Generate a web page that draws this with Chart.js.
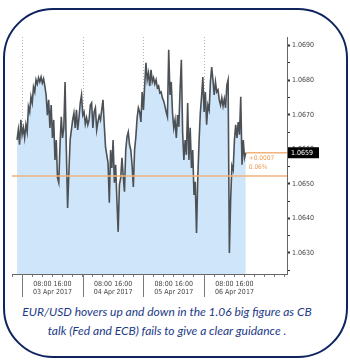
<!DOCTYPE html>
<html>
<head>
<meta charset="utf-8">
<script src="https://cdn.jsdelivr.net/npm/chart.js@4.4.1/dist/chart.umd.min.js"></script>
<style>
    body { margin: 0; background: #fff; width: 350px; height: 362px; position: relative; overflow: hidden; }
    #frame {
        position: absolute; left: 3px; top: 8px; width: 345px; height: 350px;
        box-sizing: border-box; border: 2px solid #102560; border-radius: 50px;
    }
    #chartBox { position: absolute; left: 0; top: 0; width: 350px; height: 300px; }
    #caption {
        position: absolute; left: 0; top: 302px; width: 334px; text-align: center;
        font-family: Lato, "Open Sans", sans-serif; font-style: italic; font-size: 12px;
        line-height: 19px; color: #1c3a86;
    }
</style>
</head>
<body>
<div id="frame"></div>
<div id="chartBox"><canvas id="fxChart" width="350" height="300"></canvas></div>
<div id="caption">EUR/USD hovers up and down in the 1.06 big figure as CB<br>talk (Fed and ECB) fails to give a clear guidance .</div>

<script>
// EUR/USD, half-hour points from 02 Apr 22:00 (hour -2, hours counted from 03 Apr 00:00)
const startHour = -2;
const stepHours = 0.5;
const prices = [
    1.06627, 1.06656, 1.06613, 1.06685, 1.06642, 1.06662, 1.06633, 1.06671, 1.06650, 1.06723,
    1.06708, 1.06752, 1.06734, 1.06780, 1.06766, 1.06801, 1.06789, 1.06807, 1.06795, 1.06809,
    1.06792, 1.06804, 1.06783, 1.06757, 1.06699, 1.06743, 1.06662, 1.06728, 1.06633, 1.06685,
    1.06569, 1.06627, 1.06517, 1.06503, 1.06613, 1.06694, 1.06633, 1.06662, 1.06795, 1.06598,
    1.06430, 1.06532, 1.06627, 1.06656, 1.06685, 1.06705, 1.06662, 1.06714, 1.06656, 1.06691,
    1.06734, 1.06757, 1.06699, 1.06708, 1.06673, 1.06691, 1.06671, 1.06685, 1.06728, 1.06734,
    1.06662, 1.06708, 1.06720, 1.06656, 1.06679, 1.06697, 1.06685, 1.06714, 1.06743, 1.06671,
    1.06607, 1.06584, 1.06561, 1.06445, 1.06598, 1.06546, 1.06627, 1.06503, 1.06555, 1.06453,
    1.06361, 1.06497, 1.06517, 1.06575, 1.06523, 1.06477, 1.06598, 1.06636, 1.06650, 1.06613,
    1.06598, 1.06555, 1.06491, 1.06598, 1.06636, 1.06691, 1.06720, 1.06708, 1.06679, 1.06766,
    1.06714, 1.06786, 1.06850, 1.06801, 1.06821, 1.06783, 1.06830, 1.06795, 1.06807, 1.06789,
    1.06801, 1.06778, 1.06783, 1.06763, 1.06766, 1.06749, 1.06740, 1.06725, 1.06708, 1.06694,
    1.06888, 1.06757, 1.06795, 1.06705, 1.06662, 1.06685, 1.06633, 1.06699, 1.06665, 1.06772,
    1.06859, 1.06650, 1.06569, 1.06627, 1.06584, 1.06734, 1.06569, 1.06662, 1.06546, 1.06598,
    1.06468, 1.06506, 1.06358, 1.06517, 1.06621, 1.06705, 1.06752, 1.06809, 1.06708, 1.06766,
    1.06671, 1.06728, 1.06714, 1.06795, 1.06838, 1.06801, 1.06757, 1.06795, 1.06766, 1.06772,
    1.06743, 1.06728, 1.06749, 1.06725, 1.06746, 1.06720, 1.06786, 1.06801, 1.06300, 1.06453,
    1.06552, 1.06540, 1.06627, 1.06671, 1.06633, 1.06679, 1.06642, 1.06752, 1.06555, 1.06627,
    1.06575, 1.06590
];
const refLevel = 1.06523;   // orange reference line
const dayLabels = ['03 Apr 2017', '04 Apr 2017', '05 Apr 2017', '06 Apr 2017'];
const dayStarts = [0, 24, 48, 72];
const yTicks = [1.0625, 1.0630, 1.0635, 1.0640, 1.0645, 1.0650, 1.0655, 1.0660, 1.0665, 1.0670, 1.0675, 1.0680, 1.0685, 1.0690];
const xTicks = [-4, 0, 4, 8, 12, 16, 20, 24, 28, 32, 36, 40, 44, 48, 52, 56, 60, 64, 68, 72, 76, 80, 84, 88, 92, 96, 100, 104];

const points = prices.map((p, i) => ({ x: startHour + i * stepHours, y: p }));
const lastPoint = points[points.length - 1];

const fontFamily = "'DejaVu Sans Condensed', 'Liberation Sans Narrow', sans-serif";
const tickFont = { family: fontFamily, size: 7 };
const orange = '#f1b27c';

function isMajor(v) {
    return Math.abs(v * 1000 - Math.round(v * 1000)) < 1e-6;
}

// day separators, dotted day gridlines, orange levels and the last price box
const extras = {
    id: 'extras',
    beforeDatasetsDraw(chart) {
        const { ctx, chartArea, scales } = chart;
        ctx.save();
        ctx.strokeStyle = '#b5b5b5';
        ctx.lineWidth = 1;
        ctx.setLineDash([1, 2]);
        dayStarts.forEach(d => {
            const x = Math.round(scales.x.getPixelForValue(d)) + 0.5;
            ctx.beginPath();
            ctx.moveTo(x, chartArea.top);
            ctx.lineTo(x, chartArea.bottom);
            ctx.stroke();
        });
        ctx.restore();
    },
    afterDraw(chart) {
        const { ctx, chartArea, scales } = chart;
        ctx.save();
        // day separators under the axis
        ctx.strokeStyle = '#7a7a7a';
        ctx.lineWidth = 1;
        dayStarts.forEach(d => {
            const x = Math.round(scales.x.getPixelForValue(d)) + 0.5;
            ctx.beginPath();
            ctx.moveTo(x, chartArea.bottom);
            ctx.lineTo(x, chartArea.bottom + 23);
            ctx.stroke();
        });
        // orange levels
        const yRef = scales.y.getPixelForValue(refLevel);
        const yLast = scales.y.getPixelForValue(lastPoint.y);
        const xLast = scales.x.getPixelForValue(lastPoint.x);
        ctx.strokeStyle = orange;
        ctx.lineWidth = 1.5;
        ctx.beginPath();
        ctx.moveTo(chartArea.left, yRef);
        ctx.lineTo(chartArea.right, yRef);
        ctx.moveTo(xLast, yLast);
        ctx.lineTo(chartArea.right, yLast);
        ctx.stroke();
        const diff = lastPoint.y - refLevel;
        ctx.fillStyle = '#ee9f58';
        ctx.font = '6.5px ' + fontFamily;
        ctx.textAlign = 'left';
        ctx.textBaseline = 'middle';
        ctx.fillText((diff >= 0 ? '+' : '') + diff.toFixed(4), xLast + 3, yLast + 6);
        ctx.fillText((diff / refLevel * 100).toFixed(2) + '%', xLast + 3, yLast + 15);
        // last price box on the axis
        ctx.fillStyle = '#000';
        ctx.fillRect(chartArea.right + 1, yLast - 5.5, 31, 11);
        ctx.fillStyle = '#fff';
        ctx.font = '7px ' + fontFamily;
        ctx.fillText(lastPoint.y.toFixed(4), chartArea.right + 4, yLast);
        ctx.restore();
    }
};

const ctx = document.getElementById('fxChart').getContext('2d');
const fxChart = new Chart(ctx, {
    type: 'line',
    data: {
        datasets: [{
            data: points,
            borderColor: '#4c5156',
            borderWidth: 1.6,
            backgroundColor: '#cfe5fa',
            fill: 'start',
            pointRadius: 0,
            tension: 0
        }]
    },
    options: {
        responsive: false,
        animation: false,
        devicePixelRatio: 1,
        layout: { padding: { left: 12, top: 37, right: 0, bottom: 0 } },
        plugins: { legend: { display: false }, tooltip: { enabled: false } },
        scales: {
            x: {
                type: 'linear',
                min: -4,
                max: 104.8,
                afterBuildTicks: scale => { scale.ticks = xTicks.map(v => ({ value: v })); },
                afterFit: scale => { scale.height = 26; },
                grid: { drawOnChartArea: false, tickLength: 3, tickColor: '#777' },
                border: { color: '#666', width: 1 },
                ticks: {
                    autoSkip: false,
                    maxRotation: 0,
                    padding: 3,
                    color: '#444',
                    font: tickFont,
                    callback: v => {
                        const hod = ((v % 24) + 24) % 24;
                        const day = Math.floor(v / 24);
                        if (!dayLabels[day]) return '';
                        if (hod === 8) return '08:00';
                        if (hod === 16) return '16:00';
                        if (hod === 12) return ['', dayLabels[day]];
                        return '';
                    }
                }
            },
            y: {
                position: 'right',
                min: 1.06239,
                max: 1.06925,
                afterBuildTicks: scale => { scale.ticks = yTicks.map(v => ({ value: v })); },
                afterFit: scale => { scale.width = 63; },
                grid: {
                    drawOnChartArea: false,
                    tickLength: 3,
                    tickColor: '#333',
                    tickWidth: c => (c.tick && isMajor(c.tick.value) ? 2 : 1)
                },
                border: { color: '#666', width: 1 },
                ticks: {
                    autoSkip: false,
                    padding: 2,
                    color: '#444',
                    font: tickFont,
                    callback: v => (isMajor(v) ? v.toFixed(4) : '')
                }
            }
        }
    },
    plugins: [extras]
});
</script>
</body>
</html>
